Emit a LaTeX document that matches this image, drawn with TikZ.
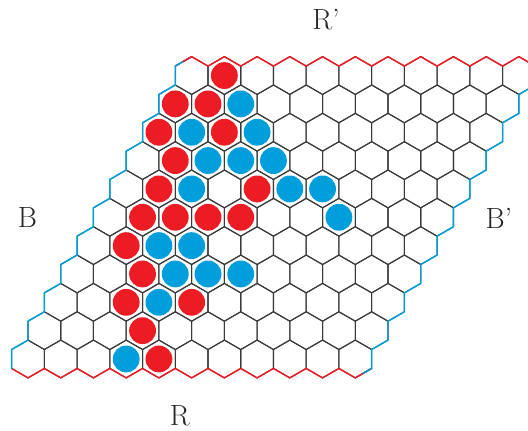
\documentclass[tikz,border=0pt]{standalone}
\usepackage{fontspec}
\usetikzlibrary{calc}
\definecolor{ink}{HTML}{3A3A3A}
\definecolor{hred}{HTML}{ED1C24}
\definecolor{hblue}{HTML}{009EDB}
\tikzset{cell/.style={ink, line width=0.8pt, line join=round},
  redge/.style={hred, line width=1.1pt, line cap=round, line join=round},
  bedge/.style={hblue, line width=1.1pt, line cap=round, line join=round},
  lbl/.style={text=black!85, font=\fontsize{22}{26}\selectfont}}

\begin{document}
\begin{tikzpicture}
  \useasboundingbox (-0.741,-1.879) rectangle (13.23,9.499);
  \foreach \r in {0,...,10}{\foreach \c in {0,...,10}{
     \draw[cell] ({0.866*(\c+\r/2)},{0.75*\r}) +(30:0.5)--+(90:0.5)--+(150:0.5)--+(210:0.5)--+(270:0.5)--+(330:0.5)--cycle;}}
  \foreach \i in {0,...,10}{
     \draw[redge] ({0.866*\i},0) +(210:0.5)--+(270:0.5)--+(330:0.5);
     \draw[redge] ({0.866*(\i+5)},7.5) +(150:0.5)--+(90:0.5)--+(30:0.5);
     \draw[bedge] ({0.433*\i},{0.75*\i}) +(210:0.5)--+(150:0.5)--+(90:0.5);
     \draw[bedge] ({0.866*(10+\i/2)},{0.75*\i}) +(30:0.5)--+(330:0.5)--+(270:0.5);}
  \draw[bedge] (8.66,0) +(300:0.433)--+(330:0.5);
  \draw[redge] (4.33,7.5) +(120:0.433)--+(90:0.5);
  \foreach \r/\c/\col in {10/1/hred, 9/0/hred, 9/1/hred, 9/2/hblue, 8/0/hred, 8/1/hblue, 8/2/hred, 8/3/hblue,
     7/1/hred, 7/2/hblue, 7/3/hblue, 7/4/hblue, 6/1/hred, 6/2/hblue, 6/4/hred, 6/5/hblue, 6/6/hblue,
     5/1/hred, 5/2/hred, 5/3/hred, 5/4/hred, 5/7/hblue, 4/1/hred, 4/2/hblue, 4/3/hblue,
     3/2/hred, 3/3/hblue, 3/4/hblue, 3/5/hblue, 2/2/hred, 2/3/hblue, 2/4/hred, 1/3/hred, 0/3/hblue, 0/4/hred}
     \fill[\col] ({0.866*(\c+\r/2)},{0.75*\r}) circle (0.355);
  \node[lbl] (rtop) at (7.885,8.97) {R'};
  \node[lbl] (rbot) at (4.02,-1.51) {R};
  \node[lbl] (bleft) at (-0.013,3.74) {B};
  \node[lbl] (bright) at (12.46,3.73) {B'};
\end{tikzpicture}
\end{document}
